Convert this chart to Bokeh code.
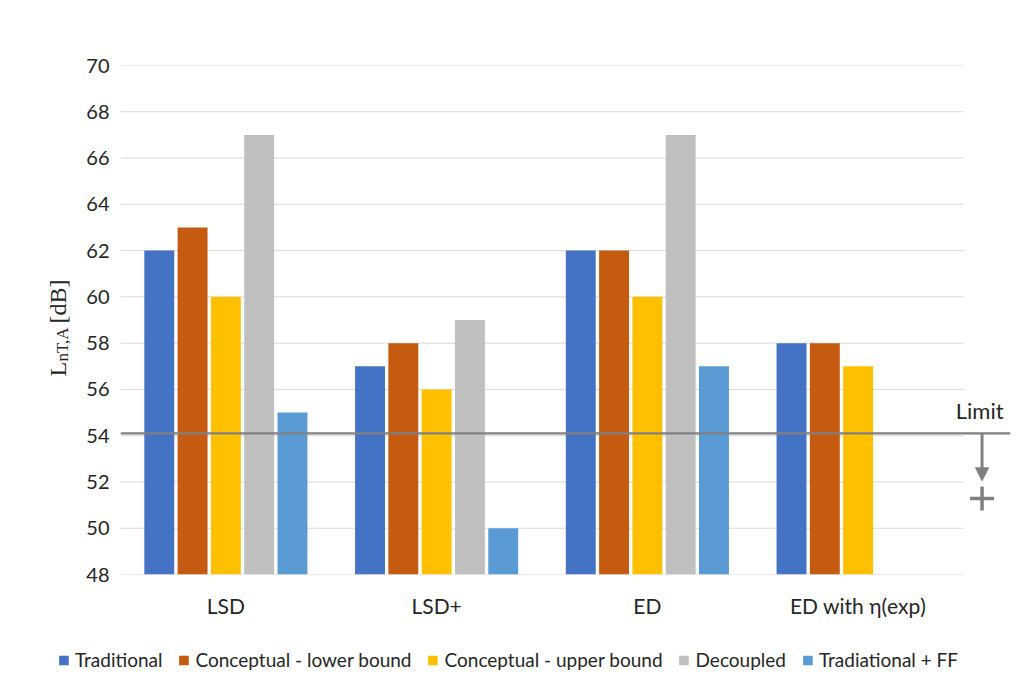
import numpy as np
from bokeh.plotting import figure
from bokeh.layouts import row, column
from bokeh.models import (Range1d, FixedTicker, Label, Legend, LegendItem,
                          Arrow, NormalHead, ColumnDataSource)
from bokeh.embed import file_html
from bokeh.resources import INLINE
from bokeh.core.properties import value

# ---- data ----
categories = ["LSD", "LSD+", "ED", "ED with η(exp)"]
series_names = ["Traditional", "Conceptual - lower bound", "Conceptual - upper bound",
                "Decoupled", "Tradiational + FF"]
traditional = [62, 57, 62, 58]
conceptual_lower = [63, 58, 62, 58]
conceptual_upper = [60, 56, 60, 57]
decoupled = [67, 59, 67, float("nan")]
traditional_ff = [55, 50, 57, float("nan")]
series_values = [traditional, conceptual_lower, conceptual_upper, decoupled, traditional_ff]
colors = ["#4472C4", "#C55A11", "#FFC000", "#BFBFBF", "#5B9BD5"]
y_ticks = list(range(48, 71, 2))
limit_value = 54.1
limit_label = "Limit"
y_label_main = "L"
y_label_sub = "nT,A"
y_label_unit = "[dB]"

Y0, Y1 = 48, 70
X_END = 4.223
FONT = "Lato"
TXT = "#262626"
W = 1015
H = 620
LW = 80

p = figure(width=W - LW, height=H, output_backend="svg", toolbar_location=None,
           x_range=Range1d(0, X_END), y_range=Range1d(Y0, Y1),
           min_border_left=120 - LW, min_border_right=5, min_border_top=65,
           min_border_bottom=H - 578)
p.outline_line_color = None
p.xgrid.visible = False
p.ygrid.visible = False

# grid lines (manual, limited to category area)
p.segment(x0=[0] * len(y_ticks), x1=[len(categories)] * len(y_ticks),
          y0=y_ticks, y1=y_ticks, line_color="#D9D9D9", line_width=1)

centers = np.arange(len(categories)) + 0.5
step = 0.158
bw = 0.142
for i, (vals, c) in enumerate(zip(series_values, colors)):
    xs = centers + (i - 2) * step
    src = ColumnDataSource(dict(x=xs, top=vals))
    p.vbar(x="x", top="top", bottom=Y0, width=bw, source=src,
           fill_color=c, line_color=None)

# limit line
p.line(x=[0, X_END], y=[limit_value, limit_value], line_color="#808080", line_width=2.3)
p.text(x=[4.19], y=[limit_value + 0.98], text=[limit_label], text_align="right",
       text_baseline="alphabetic", text_font=value(FONT), text_font_size="22px",
       text_color="#262626")
p.add_layout(Arrow(end=NormalHead(size=13, fill_color="#808080", line_color="#808080"),
                   x_start=4.088, y_start=limit_value, x_end=4.088, y_end=52.05,
                   line_color="#808080", line_width=3))
p.scatter(x=[4.088], y=[51.28], marker="cross", size=24, line_width=3.5,
          line_color="#808080")

# axes
p.yaxis.ticker = FixedTicker(ticks=y_ticks)
p.yaxis.axis_line_color = None
p.yaxis.major_tick_line_color = None
p.yaxis.minor_tick_line_color = None
p.yaxis.major_label_standoff = 5
p.yaxis.major_label_text_font = FONT
p.yaxis.major_label_text_font_size = "20px"
p.yaxis.major_label_text_color = TXT

p.xaxis.ticker = FixedTicker(ticks=list(centers))
p.xaxis.major_label_overrides = {float(c): n for c, n in zip(centers, categories)}
p.xaxis.axis_line_color = None
p.xaxis.major_tick_line_color = None
p.xaxis.minor_tick_line_color = None
p.xaxis.major_label_standoff = 12
p.xaxis.major_label_text_font = FONT
p.xaxis.major_label_text_font_size = "21px"
p.xaxis.major_label_text_color = TXT

# narrow strip on the left carrying the y-axis title (with subscript);
# its frame is aligned with the main frame (bottom at the y=48 line)
q = figure(width=LW, height=H, output_backend="svg", toolbar_location=None,
           x_axis_type=None, y_axis_type=None, min_border=0,
           x_range=Range1d(0, LW), y_range=Range1d(0, H))
q.outline_line_color = None
q.xgrid.visible = False
q.ygrid.visible = False
serif = "Liberation Serif"
q.add_layout(Label(x=57, y=198, x_units="screen", y_units="screen", text=y_label_main,
                   angle=np.pi / 2, text_align="left", text_baseline="alphabetic",
                   text_font=serif, text_font_size="24px", text_color="#262626"))
q.add_layout(Label(x=62, y=213, x_units="screen", y_units="screen", text=y_label_sub,
                   angle=np.pi / 2, text_align="left", text_baseline="alphabetic",
                   text_font=serif, text_font_size="17px", text_color="#262626"))
q.add_layout(Label(x=57, y=251, x_units="screen", y_units="screen", text=y_label_unit,
                   angle=np.pi / 2, text_align="left", text_baseline="alphabetic",
                   text_font=serif, text_font_size="24px", text_color="#262626"))

# legend strip below
LH = 66
lg = figure(width=W, height=LH, output_backend="svg", toolbar_location=None,
            x_axis_type=None, y_axis_type=None, min_border=0,
            x_range=Range1d(0, 1), y_range=Range1d(0, 1))
lg.outline_line_color = None
lg.xgrid.visible = False
lg.ygrid.visible = False
items = []
for name, c in zip(series_names, colors):
    # key swatch only: the point lies outside the strip's visible range
    r = lg.vbar(x=[5], top=[5], bottom=[4], width=0.1, fill_color=c, line_color=None)
    items.append(LegendItem(label=name, renderers=[r]))
legend = Legend(items=items, orientation="horizontal", location="top_center",
                glyph_width=12, glyph_height=12, label_standoff=6, spacing=15,
                padding=4, margin=28, border_line_color=None, background_fill_alpha=0,
                label_text_font=FONT, label_text_font_size="19px",
                label_text_color=TXT)
lg.add_layout(legend, "center")

layout = column(row(q, p, spacing=0), lg, spacing=0)
open("out.html", "w").write(file_html(layout, INLINE))
